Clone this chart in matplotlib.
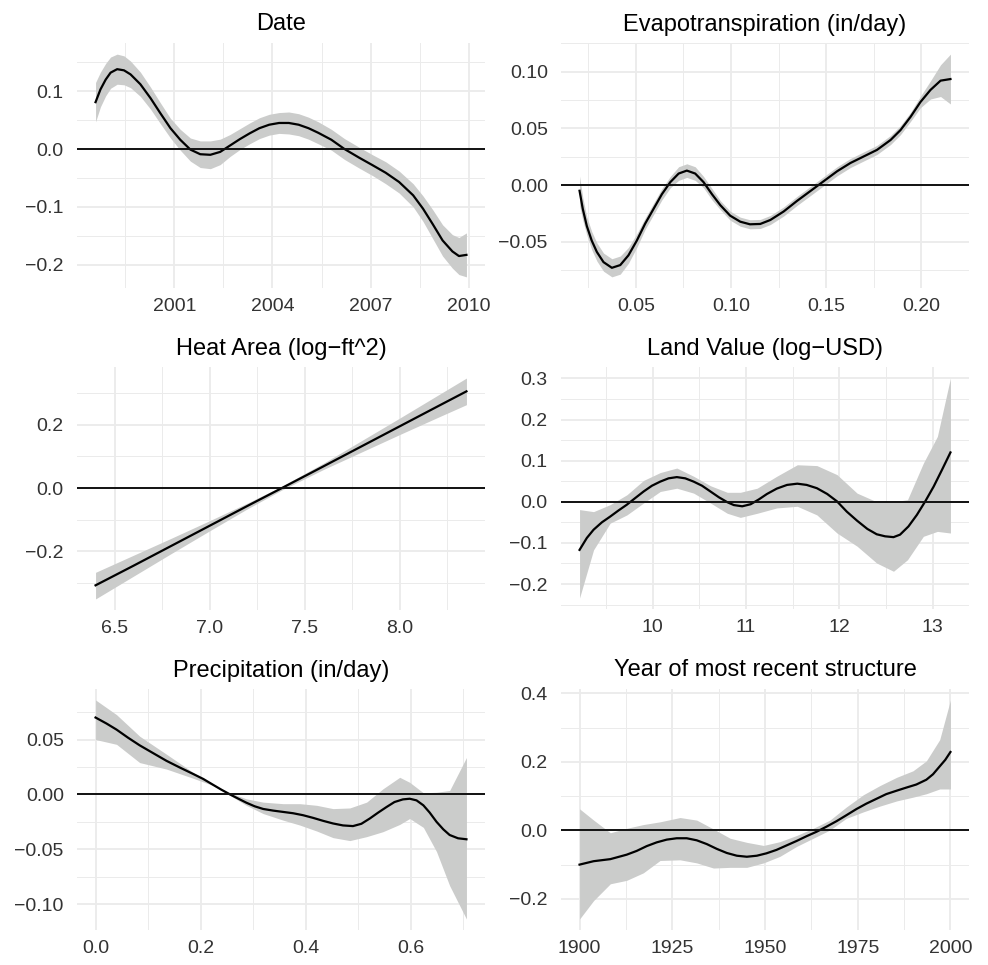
import matplotlib
matplotlib.use("Agg")
import matplotlib.pyplot as plt
import numpy as np

plt.rcParams['font.family'] = ['Liberation Sans', 'DejaVu Sans']

# ---------------- data ----------------
# Date
date_x = [1998.59, 1998.74, 1998.9, 1999.05, 1999.25, 1999.46, 1999.66, 1999.96, 2000.27, 2000.57,
          2000.88, 2001.18, 2001.49, 2001.79, 2002.1, 2002.4, 2002.7, 2003.0, 2003.3, 2003.6,
          2003.9, 2004.2, 2004.5, 2004.8, 2005.1, 2005.4, 2005.8, 2006.2, 2006.65, 2007.06,
          2007.46, 2007.87, 2008.3, 2008.6, 2008.9, 2009.2, 2009.5, 2009.7, 2009.93]
date_y = [0.081, 0.103, 0.120, 0.132, 0.138, 0.136, 0.129, 0.112, 0.088, 0.062,
          0.036, 0.016, -0.001, -0.009, -0.010, -0.005, 0.006, 0.017, 0.027, 0.036,
          0.042, 0.045, 0.045, 0.042, 0.036, 0.028, 0.016, 0.000, -0.015, -0.028,
          -0.041, -0.057, -0.080, -0.103, -0.130, -0.158, -0.177, -0.185, -0.183]
date_se = [0.034, 0.030, 0.028, 0.027, 0.026, 0.025, 0.023, 0.021, 0.019, 0.018,
           0.017, 0.018, 0.020, 0.023, 0.024, 0.022, 0.019, 0.018, 0.018, 0.018,
           0.018, 0.018, 0.019, 0.019, 0.019, 0.019, 0.018, 0.018, 0.018, 0.018,
           0.019, 0.019, 0.020, 0.022, 0.025, 0.027, 0.029, 0.032, 0.038]

# Evapotranspiration
evap_x = [0.0204, 0.0221, 0.0242, 0.0268, 0.0295, 0.033, 0.0374, 0.0418, 0.0461, 0.0505,
          0.0549, 0.0593, 0.0637, 0.0681, 0.0725, 0.0768, 0.0812, 0.0856, 0.090, 0.0944,
          0.0996, 0.1049, 0.110, 0.1154, 0.1207, 0.1277, 0.1347, 0.1418, 0.1488, 0.1558,
          0.1628, 0.1698, 0.1768, 0.1839, 0.1891, 0.1944, 0.1996, 0.2049, 0.2102, 0.2154]
evap_y = [-0.005, -0.021, -0.036, -0.049, -0.059, -0.068, -0.073, -0.0706, -0.062, -0.049,
          -0.034, -0.021, -0.008, 0.0026, 0.0102, 0.0128, 0.0102, 0.0026, -0.008, -0.0177,
          -0.027, -0.0323, -0.0346, -0.0343, -0.0308, -0.0233, -0.014, -0.0052, 0.0035, 0.0122,
          0.0195, 0.0253, 0.0311, 0.0398, 0.0485, 0.0602, 0.0733, 0.084, 0.0922, 0.0936]
evap_se = [0.013, 0.010, 0.008, 0.008, 0.008, 0.008, 0.008, 0.008, 0.007, 0.006,
           0.005, 0.005, 0.005, 0.005, 0.006, 0.006, 0.006, 0.005, 0.005, 0.004,
           0.004, 0.004, 0.004, 0.004, 0.004, 0.004, 0.004, 0.004, 0.004, 0.004,
           0.004, 0.004, 0.004, 0.004, 0.004, 0.004, 0.005, 0.008, 0.014, 0.022]

# Heat area
heat_x = [6.40, 6.60, 6.80, 7.00, 7.20, 7.38, 7.60, 7.80, 8.00, 8.20, 8.35]
heat_y = [-0.307, -0.245, -0.182, -0.119, -0.056, 0.000, 0.069, 0.132, 0.195, 0.258, 0.305]
heat_lo = [-0.350, -0.278, -0.206, -0.135, -0.065, -0.006, 0.059, 0.114, 0.169, 0.223, 0.263]
heat_hi = [-0.266, -0.212, -0.158, -0.103, -0.047, 0.006, 0.079, 0.150, 0.221, 0.293, 0.347]

# Land value
land_x = [9.218, 9.296, 9.368, 9.457, 9.546, 9.636, 9.725, 9.814, 9.904, 9.993,
          10.082, 10.171, 10.26, 10.35, 10.44, 10.53, 10.62, 10.71, 10.80, 10.87,
          10.96, 11.05, 11.14, 11.225, 11.33, 11.44, 11.55, 11.65, 11.76, 11.87,
          11.975, 12.08, 12.19, 12.30, 12.40, 12.49, 12.58, 12.65, 12.74, 12.83,
          12.92, 13.01, 13.10, 13.19]
land_y = [-0.117, -0.088, -0.068, -0.050, -0.036, -0.021, -0.007, 0.009, 0.025, 0.039,
          0.049, 0.057, 0.060, 0.057, 0.049, 0.039, 0.025, 0.011, -0.001, -0.008,
          -0.011, -0.006, 0.006, 0.019, 0.032, 0.041, 0.044, 0.041, 0.033, 0.019,
          0.001, -0.024, -0.046, -0.066, -0.079, -0.084, -0.086, -0.080, -0.060, -0.032,
          0.001, 0.037, 0.078, 0.120]
land_band_x = [9.218, 9.368, 9.546, 9.725, 9.904, 10.082, 10.26, 10.44, 10.62, 10.80,
               10.94, 11.12, 11.33, 11.55, 11.76, 11.975, 12.19, 12.40, 12.58, 12.73,
               12.90, 13.05, 13.19]
land_lo = [-0.234, -0.117, -0.052, -0.032, -0.003, 0.025, 0.033, 0.021, -0.003, -0.028,
           -0.038, -0.028, -0.015, -0.011, -0.032, -0.076, -0.108, -0.149, -0.169, -0.141,
           -0.084, -0.072, -0.076]
land_hi = [-0.019, -0.024, -0.007, 0.017, 0.052, 0.071, 0.082, 0.062, 0.039, 0.023,
           0.023, 0.033, 0.062, 0.090, 0.088, 0.066, 0.021, 0.000, 0.000, 0.005,
           0.094, 0.159, 0.301]

# Precipitation
prec_x = [0.000, 0.021, 0.040, 0.062, 0.084, 0.110, 0.135, 0.160, 0.186, 0.205,
          0.224, 0.240, 0.256, 0.272, 0.287, 0.303, 0.319, 0.338, 0.357, 0.376,
          0.395, 0.414, 0.433, 0.452, 0.471, 0.490, 0.506, 0.522, 0.538, 0.554,
          0.569, 0.585, 0.598, 0.611, 0.624, 0.636, 0.649, 0.662, 0.674, 0.690,
          0.706]
prec_y = [0.070, 0.0645, 0.059, 0.0516, 0.0447, 0.0375, 0.0306, 0.0246, 0.0186, 0.0141,
          0.0087, 0.0042, 0.000, -0.0039, -0.0075, -0.0108, -0.0132, -0.0147, -0.0159, -0.0171,
          -0.0189, -0.0213, -0.024, -0.0264, -0.0282, -0.0288, -0.0267, -0.0219, -0.0165, -0.0114,
          -0.0069, -0.0045, -0.0039, -0.0054, -0.0099, -0.0165, -0.0249, -0.0318, -0.0369, -0.0399,
          -0.0408]
prec_band_x = [0.000, 0.040, 0.084, 0.135, 0.186, 0.224, 0.256, 0.287, 0.319, 0.357,
               0.389, 0.421, 0.452, 0.484, 0.516, 0.547, 0.579, 0.598, 0.624, 0.649,
               0.674, 0.706]
prec_lo = [0.050, 0.0456, 0.029, 0.0231, 0.0147, 0.0081, -0.0009, -0.0099, -0.0174, -0.0234,
           -0.0279, -0.0333, -0.0393, -0.042, -0.0384, -0.0339, -0.0273, -0.0219, -0.030, -0.052,
           -0.083, -0.1134]
prec_hi = [0.086, 0.0726, 0.053, 0.0366, 0.020, 0.0087, 0.0015, -0.004, -0.007, -0.0084,
           -0.0084, -0.0099, -0.0129, -0.0123, -0.007, 0.0051, 0.0156, 0.011, 0.0015, 0.002,
           0.0036, 0.0336]

# Year of most recent structure
year_x = [1900.0, 1903.8, 1908.3, 1912.7, 1915.4, 1918.1, 1920.8, 1923.5, 1926.2, 1928.9,
          1931.6, 1934.3, 1937.0, 1939.7, 1942.4, 1945.1, 1947.8, 1950.4, 1953.1, 1955.8,
          1958.5, 1961.2, 1963.9, 1966.6, 1969.3, 1971.9, 1974.6, 1977.3, 1980.0, 1982.7,
          1985.5, 1988.1, 1990.8, 1993.5, 1995.3, 1997.1, 1998.6, 2000.0]
year_y = [-0.100, -0.090, -0.084, -0.071, -0.060, -0.046, -0.035, -0.027, -0.023, -0.023,
          -0.029, -0.040, -0.054, -0.066, -0.074, -0.077, -0.074, -0.067, -0.057, -0.044,
          -0.031, -0.017, -0.004, 0.011, 0.027, 0.044, 0.062, 0.078, 0.092, 0.106,
          0.116, 0.125, 0.134, 0.148, 0.164, 0.187, 0.206, 0.229]
year_band_x = [1900.0, 1903.8, 1908.3, 1912.7, 1917.2, 1921.7, 1927.1, 1931.6, 1936.1, 1940.6,
               1945.1, 1949.6, 1954.0, 1958.5, 1963.0, 1967.5, 1971.9, 1976.5, 1981.0, 1985.5,
               1989.9, 1993.5, 1997.1, 2000.0]
year_lo = [-0.259, -0.205, -0.156, -0.146, -0.124, -0.088, -0.086, -0.095, -0.110, -0.108,
           -0.108, -0.095, -0.076, -0.047, -0.023, 0.001, 0.035, 0.054, 0.071, 0.086,
           0.097, 0.107, 0.121, 0.121]
year_hi = [0.063, 0.030, -0.007, 0.006, 0.017, 0.025, 0.0375, 0.030, 0.004, -0.023,
           -0.035, -0.044, -0.033, -0.015, 0.006, 0.030, 0.068, 0.104, 0.131, 0.155,
           0.174, 0.203, 0.265, 0.381]

titles = ["Date", "Evapotranspiration (in/day)", "Heat Area (log\u2212ft^2)",
          "Land Value (log\u2212USD)", "Precipitation (in/day)", "Year of most recent structure"]

date_xticks = [2001, 2004, 2007, 2010]
date_xlabels = ["2001", "2004", "2007", "2010"]
date_yticks = [-0.2, -0.1, 0.0, 0.1]
evap_xticks = [0.05, 0.10, 0.15, 0.20]
evap_xlabels = ["0.05", "0.10", "0.15", "0.20"]
evap_yticks = [-0.05, 0.00, 0.05, 0.10]
heat_xticks = [6.5, 7.0, 7.5, 8.0]
heat_xlabels = ["6.5", "7.0", "7.5", "8.0"]
heat_yticks = [-0.2, 0.0, 0.2]
land_xticks = [10, 11, 12, 13]
land_xlabels = ["10", "11", "12", "13"]
land_yticks = [-0.2, -0.1, 0.0, 0.1, 0.2, 0.3]
prec_xticks = [0.0, 0.2, 0.4, 0.6]
prec_xlabels = ["0.0", "0.2", "0.4", "0.6"]
prec_yticks = [-0.10, -0.05, 0.00, 0.05]
year_xticks = [1900, 1925, 1950, 1975, 2000]
year_xlabels = ["1900", "1925", "1950", "1975", "2000"]
year_yticks = [-0.2, 0.0, 0.2, 0.4]

# ---------------- layout ----------------
W, H = 988, 965
fig = plt.figure(figsize=(W / 100, H / 100), dpi=100)
fig.patch.set_facecolor("white")

boxes = [(77, 43, 485, 288), (561, 43, 969, 288),
         (77, 367, 485, 610), (561, 367, 969, 609),
         (77, 689, 485, 930), (561, 689, 969, 930)]

date_band = (date_x, [y - s for y, s in zip(date_y, date_se)], [y + s for y, s in zip(date_y, date_se)])
evap_band = (evap_x, [y - s for y, s in zip(evap_y, evap_se)], [y + s for y, s in zip(evap_y, evap_se)])

panels = [
    (date_x, date_y, date_band, date_xticks, date_xlabels, date_yticks, 1),
    (evap_x, evap_y, evap_band, evap_xticks, evap_xlabels, evap_yticks, 2),
    (heat_x, heat_y, (heat_x, heat_lo, heat_hi), heat_xticks, heat_xlabels, heat_yticks, 1),
    (land_x, land_y, (land_band_x, land_lo, land_hi), land_xticks, land_xlabels, land_yticks, 1),
    (prec_x, prec_y, (prec_band_x, prec_lo, prec_hi), prec_xticks, prec_xlabels, prec_yticks, 2),
    (year_x, year_y, (year_band_x, year_lo, year_hi), year_xticks, year_xlabels, year_yticks, 1),
]

grid_col = "#ebebeb"
for (x0, y0, x1, y1), (xs, ys, band, xt, xl, yt, ydec), title in zip(boxes, panels, titles):
    bx, lo, hi = band
    ax = fig.add_axes([x0 / W, 1 - y1 / H, (x1 - x0) / W, (y1 - y0) / H])
    ax.set_facecolor("white")
    ax.fill_between(bx, lo, hi, color="#cbcccb", linewidth=0, zorder=2)
    ax.plot(xs, ys, color="black", lw=1.6, zorder=3, solid_joinstyle="round")
    ax.axhline(0, color="#111111", lw=1.4, zorder=4)
    xmin = min(min(xs), min(bx)); xmax = max(max(xs), max(bx))
    ymin = min(lo); ymax = max(hi)
    dx = (xmax - xmin) * 0.05; dy = (ymax - ymin) * 0.05
    ax.set_xticks(xt)
    ax.set_xticklabels(xl)
    ax.set_yticks(yt)
    fmt = "{:.%df}" % ydec
    ax.set_yticklabels([fmt.format(v).replace("-", "\u2212") if abs(v) > 1e-12 else fmt.format(0) for v in yt])
    xstep = xt[1] - xt[0]
    ystep = yt[1] - yt[0]
    xminor = [v - xstep / 2 for v in xt] + [xt[-1] + xstep / 2]
    yminor = [v - ystep / 2 for v in yt] + [yt[-1] + ystep / 2]
    ax.set_xticks(xminor, minor=True)
    ax.set_yticks(yminor, minor=True)
    ax.set_xlim(xmin - dx, xmax + dx)
    ax.set_ylim(ymin - dy, ymax + dy)
    ax.grid(which="major", color=grid_col, lw=1.3, zorder=0)
    ax.grid(which="minor", color=grid_col, lw=0.7, zorder=0)
    ax.set_axisbelow(True)
    for s in ax.spines.values():
        s.set_visible(False)
    ax.tick_params(which="both", length=0)
    ax.tick_params(axis="x", pad=7, labelsize=14, labelcolor="#333333")
    ax.tick_params(axis="y", pad=9.5, labelsize=14, labelcolor="#333333")
    ax.set_title(title, fontsize=17, color="black", pad=9)

fig.savefig("out.png", dpi=100, facecolor="white")
